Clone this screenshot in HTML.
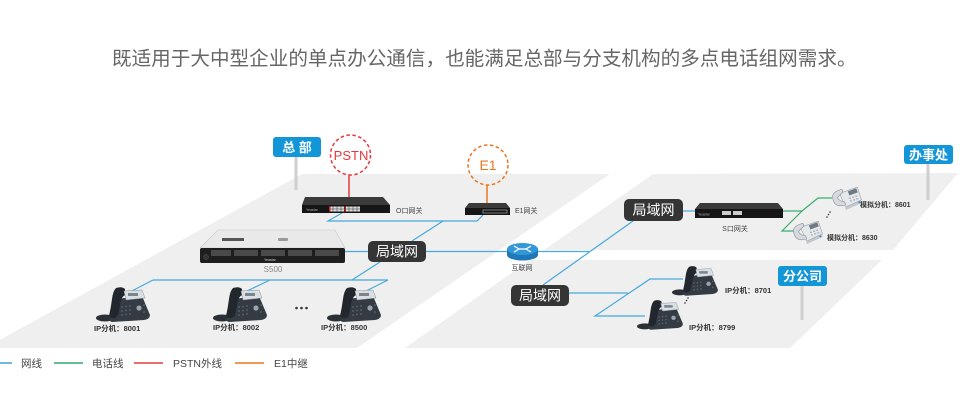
<!DOCTYPE html>
<html><head><meta charset="utf-8"><style>
html,body{margin:0;padding:0;background:#fff;}
svg{display:block;}
text{font-family:"Liberation Sans","Noto Sans CJK SC",sans-serif;}
</style></head><body>
<svg width="960" height="407" viewBox="0 0 960 407" xmlns="http://www.w3.org/2000/svg">
<defs>
  <g id="ipphone">
    <ellipse cx="9" cy="31" rx="9" ry="3.5" fill="#2b3036"/>
    <path d="M20,12 L46,9 L54,28 Q54,32 48,33 L16,35 Q12,34 14,30 Z" fill="#343b43"/>
    <path d="M20,1 Q26,-1 29,2 L29,8 Q25,10 24,18 L22,28 Q20,32 15,31 L13,29 Q15,20 16,12 Q17,4 20,1 Z" fill="#22272d"/>
    <polygon points="28,4 46,3 49,11 30,13" fill="#d9dfe3" stroke="#8a9096" stroke-width="0.5"/>
    <rect x="32" y="6" width="10" height="3" fill="#7b858e"/>
    <circle cx="43" cy="21" r="2.6" fill="#9aa3ab"/>
    <g fill="#5d666f">
      <circle cx="26" cy="20" r="0.9"/><circle cx="30" cy="19.5" r="0.9"/><circle cx="34" cy="19" r="0.9"/>
      <circle cx="26" cy="24" r="0.9"/><circle cx="30" cy="23.5" r="0.9"/><circle cx="34" cy="23" r="0.9"/>
      <circle cx="26" cy="28" r="0.9"/><circle cx="30" cy="27.5" r="0.9"/><circle cx="34" cy="27" r="0.9"/>
      <circle cx="48" cy="25" r="0.9"/><circle cx="48" cy="18" r="0.9"/>
    </g>
  </g>
  <g id="anaphone">
    <path d="M14,22 L29,15 L29,18 L14,25 Z" fill="#c3c8cd"/>
    <path d="M8,9 L25,3 L29,15 L14,22 Z" fill="#e6e9ec" stroke="#9aa2aa" stroke-width="0.6"/>
    <polygon points="16,7 24,4 25.5,8 17.5,11" fill="#707a83"/>
    <g fill="#a9b0b7">
      <rect x="17" y="13" width="2" height="1.2"/><rect x="20" y="12" width="2" height="1.2"/><rect x="23" y="11" width="2" height="1.2"/>
      <rect x="18" y="15.5" width="2" height="1.2"/><rect x="21" y="14.5" width="2" height="1.2"/><rect x="24" y="13.5" width="2" height="1.2"/>
    </g>
    <path d="M2,15 Q0,10 5,7 L10,5 Q13,7 9,10 L6,13 Q9,17 13,17 L14,20 Q4,23 2,15 Z" fill="#d6dade" stroke="#8a929a" stroke-width="0.6"/>
    <circle cx="27" cy="17.5" r="0.9" fill="#2b7fd0"/>
  </g>
</defs>

<text x="112" y="65" font-size="19.6" fill="#666">既适用于大中型企业的单点办公通信，也能满足总部与分支机构的多点电话组网需求。</text>

<polygon points="302,174 610,174 357,348 -15,348" fill="#efefef"/>
<polygon points="653,174 958,173 893,250 544,250" fill="#efefef"/>
<polygon points="530,260 882,260 790,348 405,348" fill="#efefef"/>

<line x1="296" y1="157" x2="296" y2="190" stroke="#cfcfcf" stroke-width="3"/>
<line x1="928" y1="164" x2="928" y2="200" stroke="#cfcfcf" stroke-width="3"/>
<line x1="802" y1="286" x2="802" y2="320" stroke="#cfcfcf" stroke-width="3"/>

<rect x="273" y="137" width="48" height="20" rx="3" fill="#1296d8"/>
<text x="297" y="152" font-size="13" font-weight="bold" fill="#fff" text-anchor="middle">总 部</text>
<rect x="904" y="145" width="49" height="19" rx="3" fill="#1296d8"/>
<text x="928.5" y="159.5" font-size="13" font-weight="bold" fill="#fff" text-anchor="middle">办事处</text>
<rect x="778" y="266" width="49" height="20" rx="3" fill="#1296d8"/>
<text x="802.5" y="281" font-size="13" font-weight="bold" fill="#fff" text-anchor="middle">分公司</text>

<g stroke="#45a9de" stroke-width="1.2" fill="none">
  <polyline points="342,213 328,221 477,221 483,215"/>
  <line x1="443" y1="221" x2="412" y2="241"/>
  <line x1="345" y1="251.5" x2="368" y2="251.5"/>
  <line x1="426" y1="251.5" x2="589" y2="251.5"/>
  <line x1="543" y1="285" x2="633" y2="221"/>
  <line x1="683" y1="211" x2="695" y2="211"/>
  <line x1="380" y1="262" x2="352" y2="280"/>
  <line x1="153" y1="280" x2="388" y2="280"/>
  <line x1="153" y1="280" x2="128" y2="293"/>
  <line x1="270" y1="280" x2="243" y2="293"/>
  <line x1="388" y1="280" x2="362" y2="293"/>
  <line x1="569" y1="293" x2="628" y2="293"/>
  <polyline points="683,279 650,279 595,316 645,316"/>
</g>
<g stroke="#3aae6e" stroke-width="1.2" fill="none">
  <polyline points="783,211 802,211 818,198 832,198"/>
  <polyline points="802,211 782,231 795,231"/>
</g>

<circle cx="350.5" cy="155" r="20" fill="none" stroke="#e8383d" stroke-width="1.5" stroke-dasharray="3.5,2.5"/>
<text x="351" y="160" font-size="13" fill="#e8383d" text-anchor="middle">PSTN</text>
<line x1="349" y1="175" x2="349" y2="198" stroke="#e8383d" stroke-width="1.5"/>
<circle cx="488" cy="165" r="20" fill="none" stroke="#e87722" stroke-width="1.5" stroke-dasharray="3.5,2.5"/>
<text x="488" y="170" font-size="14" fill="#e87722" text-anchor="middle">E1</text>
<line x1="487" y1="185" x2="487" y2="203" stroke="#e87722" stroke-width="1.5"/>

<polygon points="305,197 383,197 390,205 302,205" fill="#3b3b3b"/>
<rect x="302" y="205" width="88" height="8" fill="#161616"/>
<text x="306" y="211" font-size="3.5" fill="#aaa">Yeastar</text>
<rect x="330" y="206.5" width="14" height="5" fill="#ddd"/>
<rect x="346" y="206.5" width="14" height="5" fill="#ddd"/>
<rect x="329" y="206.5" width="1.5" height="5" fill="#d22"/>
<rect x="344.5" y="206.5" width="1.5" height="5" fill="#d22"/>
<g stroke="#333" stroke-width="0.5"><line x1="333" y1="206.5" x2="333" y2="211.5"/><line x1="337" y1="206.5" x2="337" y2="211.5"/><line x1="341" y1="206.5" x2="341" y2="211.5"/><line x1="349" y1="206.5" x2="349" y2="211.5"/><line x1="353" y1="206.5" x2="353" y2="211.5"/><line x1="357" y1="206.5" x2="357" y2="211.5"/><line x1="330" y1="209" x2="360" y2="209"/></g>
<text x="396" y="213" font-size="7" fill="#444">O口网关</text>

<polygon points="469,203 506,203 510,208 465,208" fill="#3b3b3b"/>
<rect x="465" y="208" width="45" height="7" fill="#161616"/>
<rect x="483" y="210" width="24" height="3" fill="none" stroke="#bbb" stroke-width="0.6"/>
<text x="515" y="213" font-size="7" fill="#444">E1网关</text>

<polygon points="218,230 335,230 345,248 200,248" fill="#e9e9e9" stroke="#c8c8c8" stroke-width="0.6"/>
<rect x="222" y="238" width="22" height="3" fill="#555"/>
<rect x="278" y="238" width="10" height="3" rx="1" fill="#999"/>
<rect x="200" y="248" width="145" height="15" rx="2" fill="#1e1e1e"/>
<g fill="#4a4a4a">
  <rect x="211" y="250" width="20" height="6"/><rect x="234" y="250" width="24" height="6"/><rect x="261" y="250" width="24" height="6"/><rect x="288" y="250" width="24" height="6"/><rect x="315" y="250" width="24" height="6"/>
</g>
<circle cx="206" cy="257" r="2.5" fill="#333" stroke="#555" stroke-width="0.5"/>
<text x="264" y="261" font-size="3.5" fill="#ccc">Yeastar</text>
<text x="273" y="272" font-size="8" fill="#888" text-anchor="middle">S500</text>

<polygon points="700,203 778,203 783,209 695,209" fill="#3b3b3b"/>
<rect x="695" y="209" width="88" height="9" fill="#161616"/>
<text x="698" y="215.5" font-size="3.5" fill="#aaa">Yeastar</text>
<rect x="722" y="211" width="9" height="4" fill="#ccc"/>
<rect x="733" y="211" width="9" height="4" fill="#ccc"/>
<text x="735" y="231" font-size="7" fill="#444" text-anchor="middle">S口网关</text>

<rect x="507" y="249" width="31" height="6" fill="#1f78b8"/>
<ellipse cx="522.5" cy="255" rx="15.5" ry="5.5" fill="#1f78b8"/>
<ellipse cx="522.5" cy="249" rx="15.5" ry="6" fill="#3398d8"/>
<g stroke="#fff" stroke-width="1.3" fill="none">
  <path d="M514,246 L519,249 M531,246 L526,249 M514,252 L519,249 M531,252 L526,249"/>
  <path d="M519,249 L526,249"/>
</g>
<text x="522" y="270" font-size="7" fill="#444" text-anchor="middle">互联网</text>

<rect x="368" y="241" width="58" height="21" rx="5" fill="#353535"/>
<text x="397" y="256.5" font-size="14" fill="#fff" text-anchor="middle">局域网</text>
<rect x="624" y="199" width="59" height="22" rx="5" fill="#353535"/>
<text x="653.5" y="215" font-size="14" fill="#fff" text-anchor="middle">局域网</text>
<rect x="511" y="285" width="58" height="21" rx="5" fill="#353535"/>
<text x="540" y="300.5" font-size="14" fill="#fff" text-anchor="middle">局域网</text>

<use href="#ipphone" transform="translate(96,287)"/>
<use href="#ipphone" transform="translate(213,287)"/>
<use href="#ipphone" transform="translate(327,287)"/>
<g fill="#333"><circle cx="296.5" cy="308" r="1.3"/><circle cx="301.5" cy="308" r="1.3"/><circle cx="306.5" cy="308" r="1.3"/></g>
<text x="94" y="331" font-size="7.5" font-weight="bold" fill="#333">IP分机：8001</text>
<text x="213" y="330" font-size="7.5" font-weight="bold" fill="#333">IP分机：8002</text>
<text x="321" y="330" font-size="7.5" font-weight="bold" fill="#333">IP分机：8500</text>

<use href="#ipphone" transform="translate(672,266) scale(0.85)"/>
<use href="#ipphone" transform="translate(637,300) scale(0.85)"/>
<g fill="#333"><circle cx="688" cy="298" r="0.8"/><circle cx="686.5" cy="300.5" r="0.8"/><circle cx="685" cy="303" r="0.8"/></g>
<text x="725" y="293" font-size="7.5" font-weight="bold" fill="#333">IP分机：8701</text>
<text x="689" y="330" font-size="7.5" font-weight="bold" fill="#333">IP分机：8799</text>

<use href="#anaphone" transform="translate(831,184) scale(1.05)"/>
<use href="#anaphone" transform="translate(792,218) scale(1.05)"/>
<g fill="#333"><circle cx="830" cy="212" r="0.8"/><circle cx="828.5" cy="214.5" r="0.8"/><circle cx="827" cy="217" r="0.8"/></g>
<text x="860" y="207" font-size="7" font-weight="bold" fill="#333">模拟分机：8601</text>
<text x="827" y="240" font-size="7" font-weight="bold" fill="#333">模拟分机：8630</text>

<g stroke-width="1.6">
  <line x1="0" y1="363" x2="12" y2="363" stroke="#45a9de"/>
  <line x1="54" y1="363" x2="83" y2="363" stroke="#2fa866"/>
  <line x1="134" y1="363" x2="163" y2="363" stroke="#e8383d"/>
  <line x1="235" y1="363" x2="264" y2="363" stroke="#e87722"/>
</g>
<g font-size="10.5" fill="#444">
  <text x="21" y="367">网线</text>
  <text x="92" y="367">电话线</text>
  <text x="173" y="367">PSTN外线</text>
  <text x="274" y="367">E1中继</text>
</g>
</svg>
</body></html>
